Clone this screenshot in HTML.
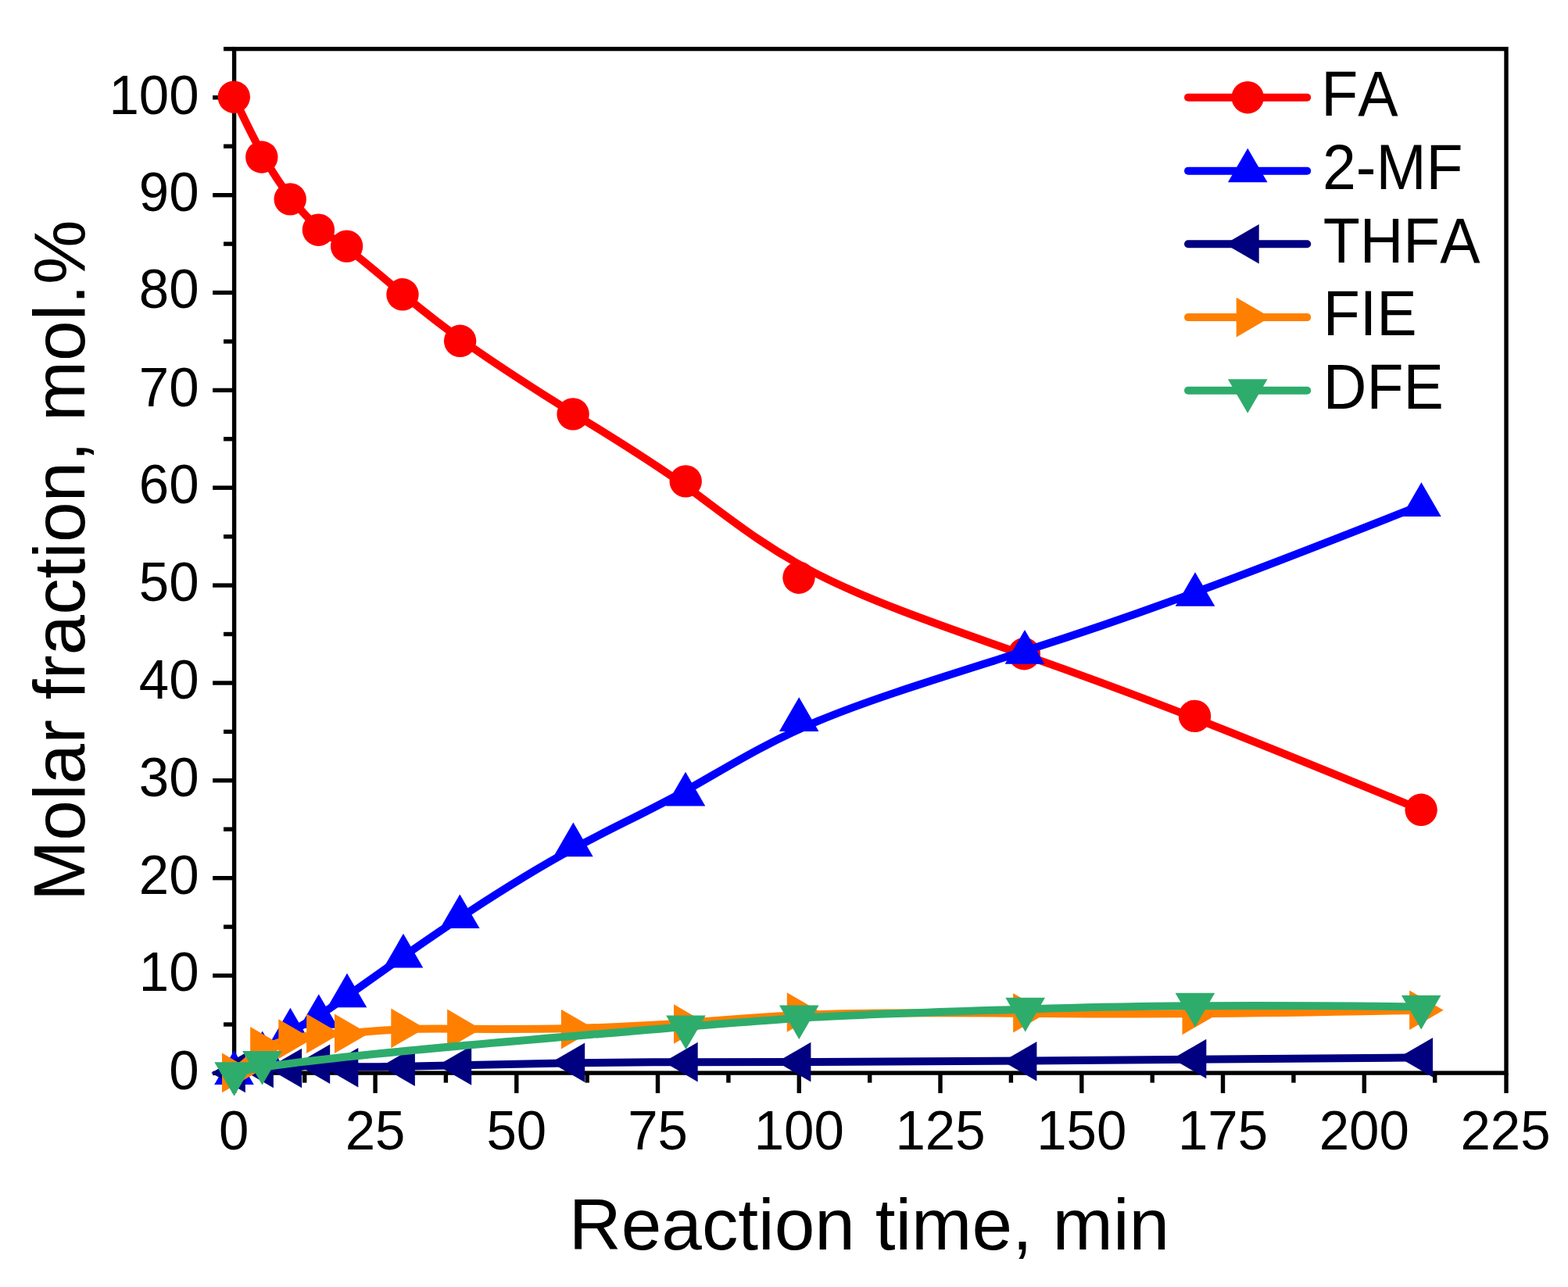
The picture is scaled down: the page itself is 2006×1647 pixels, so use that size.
<!DOCTYPE html>
<html lang="en">
<head>
<meta charset="utf-8">
<title>Molar fraction vs reaction time</title>
<style>
html,body{margin:0;padding:0;background:#ffffff;}
body{width:2006px;height:1647px;overflow:hidden;}
svg{display:block;}
</style>
</head>
<body>
<svg width="2006" height="1647" viewBox="0 0 2006 1647" font-family='"Liberation Sans", Arial, Helvetica, sans-serif'>
<rect x="0" y="0" width="2006" height="1647" fill="#ffffff"/>
<g stroke="#000000" stroke-width="5.4" fill="none" stroke-linecap="butt">
<rect x="299.6" y="62.6" width="1627.4" height="1310.5"/>
<line x1="299.6" y1="1373.1" x2="299.6" y2="1398.9"/>
<line x1="389.7" y1="1373.1" x2="389.7" y2="1385.6"/>
<line x1="480.1" y1="1373.1" x2="480.1" y2="1398.9"/>
<line x1="570.4" y1="1373.1" x2="570.4" y2="1385.6"/>
<line x1="660.8" y1="1373.1" x2="660.8" y2="1398.9"/>
<line x1="751.2" y1="1373.1" x2="751.2" y2="1385.6"/>
<line x1="841.5" y1="1373.1" x2="841.5" y2="1398.9"/>
<line x1="931.9" y1="1373.1" x2="931.9" y2="1385.6"/>
<line x1="1022.3" y1="1373.1" x2="1022.3" y2="1398.9"/>
<line x1="1112.7" y1="1373.1" x2="1112.7" y2="1385.6"/>
<line x1="1203.0" y1="1373.1" x2="1203.0" y2="1398.9"/>
<line x1="1293.4" y1="1373.1" x2="1293.4" y2="1385.6"/>
<line x1="1383.8" y1="1373.1" x2="1383.8" y2="1398.9"/>
<line x1="1474.2" y1="1373.1" x2="1474.2" y2="1385.6"/>
<line x1="1564.5" y1="1373.1" x2="1564.5" y2="1398.9"/>
<line x1="1654.9" y1="1373.1" x2="1654.9" y2="1385.6"/>
<line x1="1745.3" y1="1373.1" x2="1745.3" y2="1398.9"/>
<line x1="1835.7" y1="1373.1" x2="1835.7" y2="1385.6"/>
<line x1="1927.0" y1="1373.1" x2="1927.0" y2="1398.9"/>
<line x1="299.6" y1="1373.4" x2="272.1" y2="1373.4"/>
<line x1="299.6" y1="1311.0" x2="286.0" y2="1311.0"/>
<line x1="299.6" y1="1248.5" x2="272.1" y2="1248.5"/>
<line x1="299.6" y1="1186.1" x2="286.0" y2="1186.1"/>
<line x1="299.6" y1="1123.7" x2="272.1" y2="1123.7"/>
<line x1="299.6" y1="1061.2" x2="286.0" y2="1061.2"/>
<line x1="299.6" y1="998.8" x2="272.1" y2="998.8"/>
<line x1="299.6" y1="936.4" x2="286.0" y2="936.4"/>
<line x1="299.6" y1="874.0" x2="272.1" y2="874.0"/>
<line x1="299.6" y1="811.5" x2="286.0" y2="811.5"/>
<line x1="299.6" y1="749.1" x2="272.1" y2="749.1"/>
<line x1="299.6" y1="686.7" x2="286.0" y2="686.7"/>
<line x1="299.6" y1="624.2" x2="272.1" y2="624.2"/>
<line x1="299.6" y1="561.8" x2="286.0" y2="561.8"/>
<line x1="299.6" y1="499.4" x2="272.1" y2="499.4"/>
<line x1="299.6" y1="437.0" x2="286.0" y2="437.0"/>
<line x1="299.6" y1="374.5" x2="272.1" y2="374.5"/>
<line x1="299.6" y1="312.1" x2="286.0" y2="312.1"/>
<line x1="299.6" y1="249.7" x2="272.1" y2="249.7"/>
<line x1="299.6" y1="187.2" x2="286.0" y2="187.2"/>
<line x1="299.6" y1="124.8" x2="272.1" y2="124.8"/>
<line x1="299.6" y1="62.6" x2="286.0" y2="62.6"/>
</g>
<g>
<path d="M299.30,124.20 C334.80,201.00 353.00,227.95 368.13,247.97 C383.27,268.00 395.33,281.10 407.40,291.13 C419.47,301.17 431.53,308.13 449.47,321.90 C467.40,335.67 491.20,356.23 515.37,376.43 C539.53,396.63 564.07,416.47 600.42,441.98 C636.77,467.50 684.93,498.70 733.03,528.63 C781.13,558.57 829.17,587.23 877.32,622.12 C925.47,657.00 973.73,698.10 1045.92,734.90 C1118.10,771.70 1214.20,804.20 1316.80,840.37 C1419.40,876.55 1528.50,916.40 1818.10,1036.30" fill="none" stroke="#ff0000" stroke-width="10.0" stroke-linejoin="round" stroke-linecap="round"/>
<circle cx="299.3" cy="124.2" r="20.7" fill="#ff0000"/>
<circle cx="334.8" cy="201.0" r="20.7" fill="#ff0000"/>
<circle cx="371.2" cy="254.9" r="20.7" fill="#ff0000"/>
<circle cx="407.4" cy="294.2" r="20.7" fill="#ff0000"/>
<circle cx="443.6" cy="315.1" r="20.7" fill="#ff0000"/>
<circle cx="515.0" cy="376.8" r="20.7" fill="#ff0000"/>
<circle cx="588.6" cy="436.3" r="20.7" fill="#ff0000"/>
<circle cx="733.1" cy="529.9" r="20.7" fill="#ff0000"/>
<circle cx="877.2" cy="615.9" r="20.7" fill="#ff0000"/>
<circle cx="1022.0" cy="739.2" r="20.7" fill="#ff0000"/>
<circle cx="1310.3" cy="836.7" r="20.7" fill="#ff0000"/>
<circle cx="1528.5" cy="916.4" r="20.7" fill="#ff0000"/>
<circle cx="1818.1" cy="1036.3" r="20.7" fill="#ff0000"/>
</g>
<g>
<path d="M299.50,1373.40 C335.70,1348.70 353.55,1333.75 368.54,1323.36 C383.53,1312.97 395.67,1307.13 407.77,1299.78 C419.87,1292.43 431.93,1283.57 449.97,1270.67 C468.00,1257.77 492.00,1240.83 516.05,1223.97 C540.10,1207.10 564.20,1190.30 600.43,1166.60 C636.67,1142.90 685.03,1112.30 733.15,1086.20 C781.27,1060.10 829.13,1038.50 877.27,1011.78 C925.40,985.07 973.80,953.23 1046.13,922.95 C1118.47,892.67 1214.73,863.93 1317.37,831.09 C1420.00,798.25 1529.00,761.30 1818.40,646.40" fill="none" stroke="#0000ff" stroke-width="10.0" stroke-linejoin="round" stroke-linecap="round"/>
<polygon points="299.5,1344.3 274.2,1387.9 324.8,1387.9" fill="#0000ff"/>
<polygon points="335.7,1319.6 310.4,1363.2 361.0,1363.2" fill="#0000ff"/>
<polygon points="371.4,1289.7 346.1,1333.3 396.7,1333.3" fill="#0000ff"/>
<polygon points="407.8,1272.2 382.5,1315.8 433.1,1315.8" fill="#0000ff"/>
<polygon points="444.0,1245.6 418.7,1289.2 469.3,1289.2" fill="#0000ff"/>
<polygon points="516.0,1194.8 490.7,1238.4 541.3,1238.4" fill="#0000ff"/>
<polygon points="588.3,1144.4 563.0,1188.0 613.6,1188.0" fill="#0000ff"/>
<polygon points="733.4,1052.6 708.1,1096.2 758.7,1096.2" fill="#0000ff"/>
<polygon points="877.0,987.8 851.7,1031.4 902.3,1031.4" fill="#0000ff"/>
<polygon points="1022.2,892.3 996.9,935.9 1047.5,935.9" fill="#0000ff"/>
<polygon points="1311.0,806.1 1285.7,849.7 1336.3,849.7" fill="#0000ff"/>
<polygon points="1529.0,732.2 1503.7,775.8 1554.3,775.8" fill="#0000ff"/>
<polygon points="1818.4,617.3 1793.1,660.9 1843.7,660.9" fill="#0000ff"/>
</g>
<g>
<path d="M299.40,1372.90 C335.40,1366.90 353.50,1366.95 368.57,1366.09 C383.63,1365.23 395.67,1363.47 407.70,1363.33 C419.73,1363.20 431.77,1364.70 449.88,1365.20 C468.00,1365.70 492.20,1365.20 516.35,1364.75 C540.50,1364.30 564.60,1363.90 600.82,1363.08 C637.03,1362.27 685.37,1361.03 733.62,1360.30 C781.87,1359.57 830.03,1359.33 878.23,1359.22 C926.43,1359.10 974.67,1359.10 1046.95,1358.97 C1119.23,1358.83 1215.57,1358.57 1317.96,1357.61 C1420.35,1356.65 1528.80,1355.00 1818.50,1353.30" fill="none" stroke="#000080" stroke-width="10.0" stroke-linejoin="round" stroke-linecap="round"/>
<polygon points="270.3,1372.9 313.9,1347.6 313.9,1398.2" fill="#000080"/>
<polygon points="306.3,1366.9 349.9,1341.6 349.9,1392.2" fill="#000080"/>
<polygon points="342.5,1367.0 386.1,1341.7 386.1,1392.3" fill="#000080"/>
<polygon points="378.6,1361.7 422.2,1336.4 422.2,1387.0" fill="#000080"/>
<polygon points="414.7,1366.2 458.3,1340.9 458.3,1391.5" fill="#000080"/>
<polygon points="487.3,1364.7 530.9,1339.4 530.9,1390.0" fill="#000080"/>
<polygon points="559.6,1363.5 603.2,1338.2 603.2,1388.8" fill="#000080"/>
<polygon points="704.6,1359.8 748.2,1334.5 748.2,1385.1" fill="#000080"/>
<polygon points="849.1,1359.1 892.7,1333.8 892.7,1384.4" fill="#000080"/>
<polygon points="993.8,1359.1 1037.4,1333.8 1037.4,1384.4" fill="#000080"/>
<polygon points="1282.8,1358.3 1326.4,1333.0 1326.4,1383.6" fill="#000080"/>
<polygon points="1499.7,1355.0 1543.3,1329.7 1543.3,1380.3" fill="#000080"/>
<polygon points="1789.4,1353.3 1833.0,1328.0 1833.0,1378.6" fill="#000080"/>
</g>
<g>
<path d="M298.50,1372.90 C334.60,1339.30 352.70,1334.45 367.72,1330.89 C382.73,1327.33 394.67,1325.07 406.62,1323.93 C418.57,1322.80 430.53,1322.80 448.57,1321.65 C466.60,1320.50 490.70,1318.20 514.72,1317.22 C538.73,1316.23 562.67,1316.57 598.93,1316.77 C635.20,1316.97 683.80,1317.03 732.12,1315.97 C780.43,1314.90 828.47,1312.70 876.62,1309.10 C924.77,1305.50 973.03,1300.50 1045.38,1298.13 C1117.73,1295.77 1214.17,1296.03 1316.48,1296.82 C1418.80,1297.60 1527.00,1298.90 1817.60,1292.70" fill="none" stroke="#ff8000" stroke-width="10.0" stroke-linejoin="round" stroke-linecap="round"/>
<polygon points="327.6,1372.9 284.0,1347.6 284.0,1398.2" fill="#ff8000"/>
<polygon points="363.7,1339.3 320.1,1314.0 320.1,1364.6" fill="#ff8000"/>
<polygon points="399.9,1329.6 356.3,1304.3 356.3,1354.9" fill="#ff8000"/>
<polygon points="435.7,1322.8 392.1,1297.5 392.1,1348.1" fill="#ff8000"/>
<polygon points="471.6,1322.8 428.0,1297.5 428.0,1348.1" fill="#ff8000"/>
<polygon points="543.9,1315.9 500.3,1290.6 500.3,1341.2" fill="#ff8000"/>
<polygon points="615.7,1316.9 572.1,1291.6 572.1,1342.2" fill="#ff8000"/>
<polygon points="761.5,1317.1 717.9,1291.8 717.9,1342.4" fill="#ff8000"/>
<polygon points="905.6,1310.5 862.0,1285.2 862.0,1335.8" fill="#ff8000"/>
<polygon points="1050.4,1295.5 1006.8,1270.2 1006.8,1320.8" fill="#ff8000"/>
<polygon points="1339.7,1296.3 1296.1,1271.0 1296.1,1321.6" fill="#ff8000"/>
<polygon points="1556.1,1298.9 1512.5,1273.6 1512.5,1324.2" fill="#ff8000"/>
<polygon points="1846.7,1292.7 1803.1,1267.4 1803.1,1318.0" fill="#ff8000"/>
</g>
<g>
<path d="M299.60,1373.70 C335.50,1359.40 606.50,1336.70 766.13,1323.17 C925.77,1309.63 974.03,1305.27 1046.40,1301.48 C1118.77,1297.70 1215.23,1294.50 1317.77,1291.40 C1420.30,1288.30 1528.90,1285.30 1818.20,1288.30" fill="none" stroke="#2eac6c" stroke-width="10.0" stroke-linejoin="round" stroke-linecap="round"/>
<polygon points="299.6,1402.8 274.3,1359.2 324.9,1359.2" fill="#2eac6c"/>
<polygon points="335.5,1388.5 310.2,1344.9 360.8,1344.9" fill="#2eac6c"/>
<polygon points="877.5,1343.1 852.2,1299.5 902.8,1299.5" fill="#2eac6c"/>
<polygon points="1022.3,1330.0 997.0,1286.4 1047.6,1286.4" fill="#2eac6c"/>
<polygon points="1311.7,1320.4 1286.4,1276.8 1337.0,1276.8" fill="#2eac6c"/>
<polygon points="1528.9,1314.4 1503.6,1270.8 1554.2,1270.8" fill="#2eac6c"/>
<polygon points="1818.2,1317.4 1792.9,1273.8 1843.5,1273.8" fill="#2eac6c"/>
</g>
<g fill="#000000" style="font-kerning:none">
<text transform="translate(299.3,1470.9) scale(1,1.03)" font-size="69" text-anchor="middle">0</text>
<text transform="translate(480.1,1470.9) scale(1,1.03)" font-size="69" text-anchor="middle">25</text>
<text transform="translate(660.8,1470.9) scale(1,1.03)" font-size="69" text-anchor="middle">50</text>
<text transform="translate(841.5,1470.9) scale(1,1.03)" font-size="69" text-anchor="middle">75</text>
<text transform="translate(1022.3,1470.9) scale(1,1.03)" font-size="69" text-anchor="middle">100</text>
<text transform="translate(1203.0,1470.9) scale(1,1.03)" font-size="69" text-anchor="middle">125</text>
<text transform="translate(1383.8,1470.9) scale(1,1.03)" font-size="69" text-anchor="middle">150</text>
<text transform="translate(1564.5,1470.9) scale(1,1.03)" font-size="69" text-anchor="middle">175</text>
<text transform="translate(1745.3,1470.9) scale(1,1.03)" font-size="69" text-anchor="middle">200</text>
<text transform="translate(1926.0,1470.9) scale(1,1.03)" font-size="69" text-anchor="middle">225</text>
<text transform="translate(254.6,1393.6) scale(1,1.03)" font-size="69" text-anchor="end">0</text>
<text transform="translate(254.6,1268.0) scale(1,1.03)" font-size="69" text-anchor="end">10</text>
<text transform="translate(254.6,1143.9) scale(1,1.03)" font-size="69" text-anchor="end">20</text>
<text transform="translate(254.6,1019.0) scale(1,1.03)" font-size="69" text-anchor="end">30</text>
<text transform="translate(254.6,894.2) scale(1,1.03)" font-size="69" text-anchor="end">40</text>
<text transform="translate(254.6,769.3) scale(1,1.03)" font-size="69" text-anchor="end">50</text>
<text transform="translate(254.6,644.4) scale(1,1.03)" font-size="69" text-anchor="end">60</text>
<text transform="translate(254.6,519.6) scale(1,1.03)" font-size="69" text-anchor="end">70</text>
<text transform="translate(254.6,394.4) scale(1,1.03)" font-size="69" text-anchor="end">80</text>
<text transform="translate(254.6,269.9) scale(1,1.03)" font-size="69" text-anchor="end">90</text>
<text transform="translate(254.6,145.7) scale(1,1.03)" font-size="69" text-anchor="end">100</text>
<text transform="translate(1111.9,1598.8)" font-size="92.8" text-anchor="middle">Reaction time, min</text>
<text transform="translate(107.9,717.2) rotate(-90)" font-size="92.8" text-anchor="middle">Molar fraction, mol.%</text>
</g>
<g fill="#000000" style="font-kerning:none">
<line x1="1520" y1="124.7" x2="1672.2" y2="124.7" stroke="#ff0000" stroke-width="10.0" stroke-linecap="round"/>
<circle cx="1596.2" cy="124.7" r="20.7" fill="#ff0000"/>
<text transform="translate(1690.3,147.8) scale(1,1.058)" font-size="77" text-anchor="start">FA</text>
<line x1="1520" y1="218.8" x2="1672.2" y2="218.8" stroke="#0000ff" stroke-width="10.0" stroke-linecap="round"/>
<polygon points="1596.2,189.7 1570.9,233.3 1621.5,233.3" fill="#0000ff"/>
<text transform="translate(1692.0,242.0) scale(1,1.058)" font-size="77" text-anchor="start">2-MF</text>
<line x1="1520" y1="312.2" x2="1672.2" y2="312.2" stroke="#000080" stroke-width="10.0" stroke-linecap="round"/>
<polygon points="1567.1,312.2 1610.7,286.9 1610.7,337.5" fill="#000080"/>
<text transform="translate(1692.7,335.5) scale(1,1.058)" font-size="77" text-anchor="start">THFA</text>
<line x1="1520" y1="406.1" x2="1672.2" y2="406.1" stroke="#ff8000" stroke-width="10.0" stroke-linecap="round"/>
<polygon points="1625.3,406.1 1581.7,380.8 1581.7,431.4" fill="#ff8000"/>
<text transform="translate(1692.8,429.3) scale(1,1.058)" font-size="77" text-anchor="start">FIE</text>
<line x1="1520" y1="499.7" x2="1672.2" y2="499.7" stroke="#2eac6c" stroke-width="10.0" stroke-linecap="round"/>
<polygon points="1596.2,528.8 1570.9,485.2 1621.5,485.2" fill="#2eac6c"/>
<text transform="translate(1692.8,523.4) scale(1,1.058)" font-size="77" text-anchor="start">DFE</text>
</g>
</svg>
</body>
</html>
